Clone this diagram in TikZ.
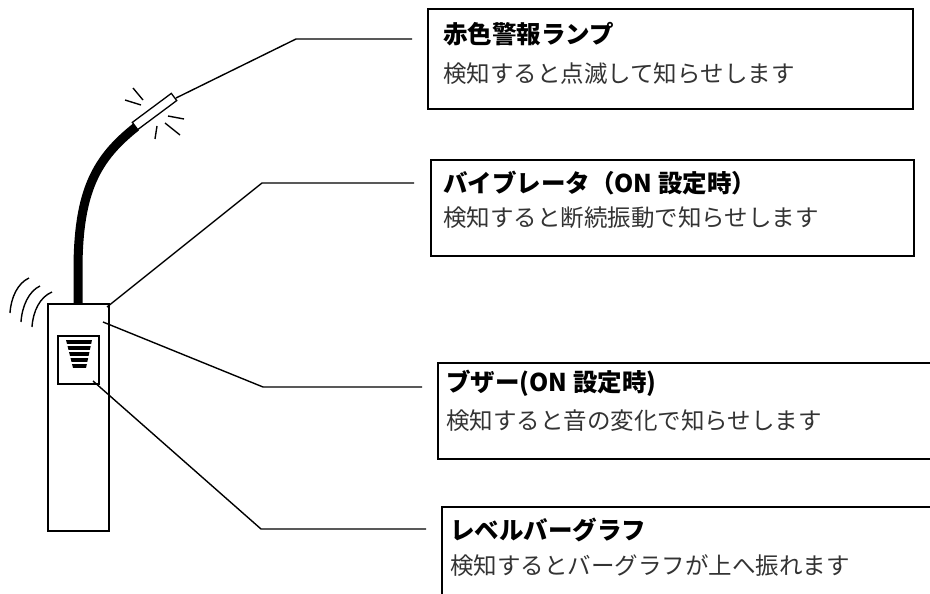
\documentclass[tikz,border=0pt]{standalone}
\usepackage{fontspec}
\newfontfamily\jpfont{Noto Sans CJK JP}
\usetikzlibrary{calc}
\tikzset{
  outline/.style={draw=black, line width=1.5pt},
  leader/.style={draw=black, line width=1.4pt},
  ray/.style={draw=black, line width=1.4pt},
  infobox/.style={draw=black, line width=1.6pt, anchor=north west, inner sep=0pt},
  headline/.style={anchor=west, inner sep=0pt, font=\jpfont\bfseries\fontsize{24.5}{24.5}\selectfont},
  bodyline/.style={anchor=west, inner sep=0pt, text=black!80, font=\jpfont\fontsize{23.5}{23.5}\selectfont},
}
\begin{document}
\begin{tikzpicture}[x=1pt, y=-1pt]
\useasboundingbox (0,0) rectangle (930,594);
\clip (0,0) rectangle (930,594);

% --- detector body with cable and lamp ---
\draw[line width=9pt] (78,306) -- (78,270) .. controls (78,190) and (97,158) .. (136,127);
\draw[outline, fill=white] (48,304) rectangle (109,531);
\draw[outline] (58,336) rectangle (99,384);

% bar graph display
\begin{scope}
  \clip (66,340) -- (92,340) -- (86,368) -- (73,368) -- cycle;
  \foreach \y in {340,346.1,352.2,358.3,364.4}
    \fill (60,\y) rectangle (100,\y+3.6);
\end{scope}

% warning lamp
\draw[line width=1.3pt, fill=white] (132.3,122.4) -- (137.7,129.6) -- (176.7,100.6) -- (171.3,93.4) -- cycle;
\coordinate (lampTip) at (176,98);

% flashing rays
\draw[ray] (133,88) -- (143,100);
\draw[ray] (125,100) -- (141,105);
\draw[ray] (168,116) -- (184,119);
\draw[ray] (165,123) -- (180,135);
\draw[ray] (157,126) -- (155,139);

% vibration waves
\draw[ray] (10,313) .. controls (11,297) and (18,283) .. (29,278);
\draw[ray] (21,322) .. controls (22,306) and (29,291) .. (40,286);
\draw[ray] (32,327) .. controls (33,311) and (40,297) .. (52,292);

% pointer origins on the detector
\coordinate (vibPt) at (107,307);
\coordinate (buzPt) at (103,322);
\coordinate (barPt) at (93,381);

% --- description boxes ---
\node[infobox, minimum width=485pt, minimum height=100pt] (box1) at (427,8) {};
\node[infobox, minimum width=483pt, minimum height=96pt] (box2) at (430,159) {};
\node[infobox, minimum width=520pt, minimum height=96pt] (box3) at (437,362) {};
\node[infobox, minimum width=520pt, minimum height=120pt] (box4) at (441,506) {};

\node[headline] (h1) at (443,34) {赤色警報ランプ};
\node[bodyline] (d1) at (443,74) {検知すると点滅して知らせします};
\node[headline] (h2) at (443,183) {バイブレータ（ON 設定時）};
\node[bodyline] (d2) at (443,218) {検知すると断続振動で知らせします};
\node[headline] (h3) at (446,383) {ブザー(ON 設定時)};
\node[bodyline] (d3) at (446,421) {検知すると音の変化で知らせします};
\node[headline] (h4) at (450,530) {レベルバーグラフ};
\node[bodyline] (d4) at (450,566) {検知するとバーグラフが上へ振れます};

% --- pointer lines ---
\coordinate (k1) at (296,39);  \coordinate (e1) at (412,39);
\coordinate (k2) at (262,183); \coordinate (e2) at (414,183);
\coordinate (k3) at (263,387); \coordinate (e3) at (422,387);
\coordinate (k4) at (261,529); \coordinate (e4) at (426,529);
\draw[leader] (lampTip) -- (k1) -- (e1);
\draw[leader] (vibPt) -- (k2) -- (e2);
\draw[leader] (buzPt) -- (k3) -- (e3);
\draw[leader] (barPt) -- (k4) -- (e4);
\end{tikzpicture}
\end{document}
